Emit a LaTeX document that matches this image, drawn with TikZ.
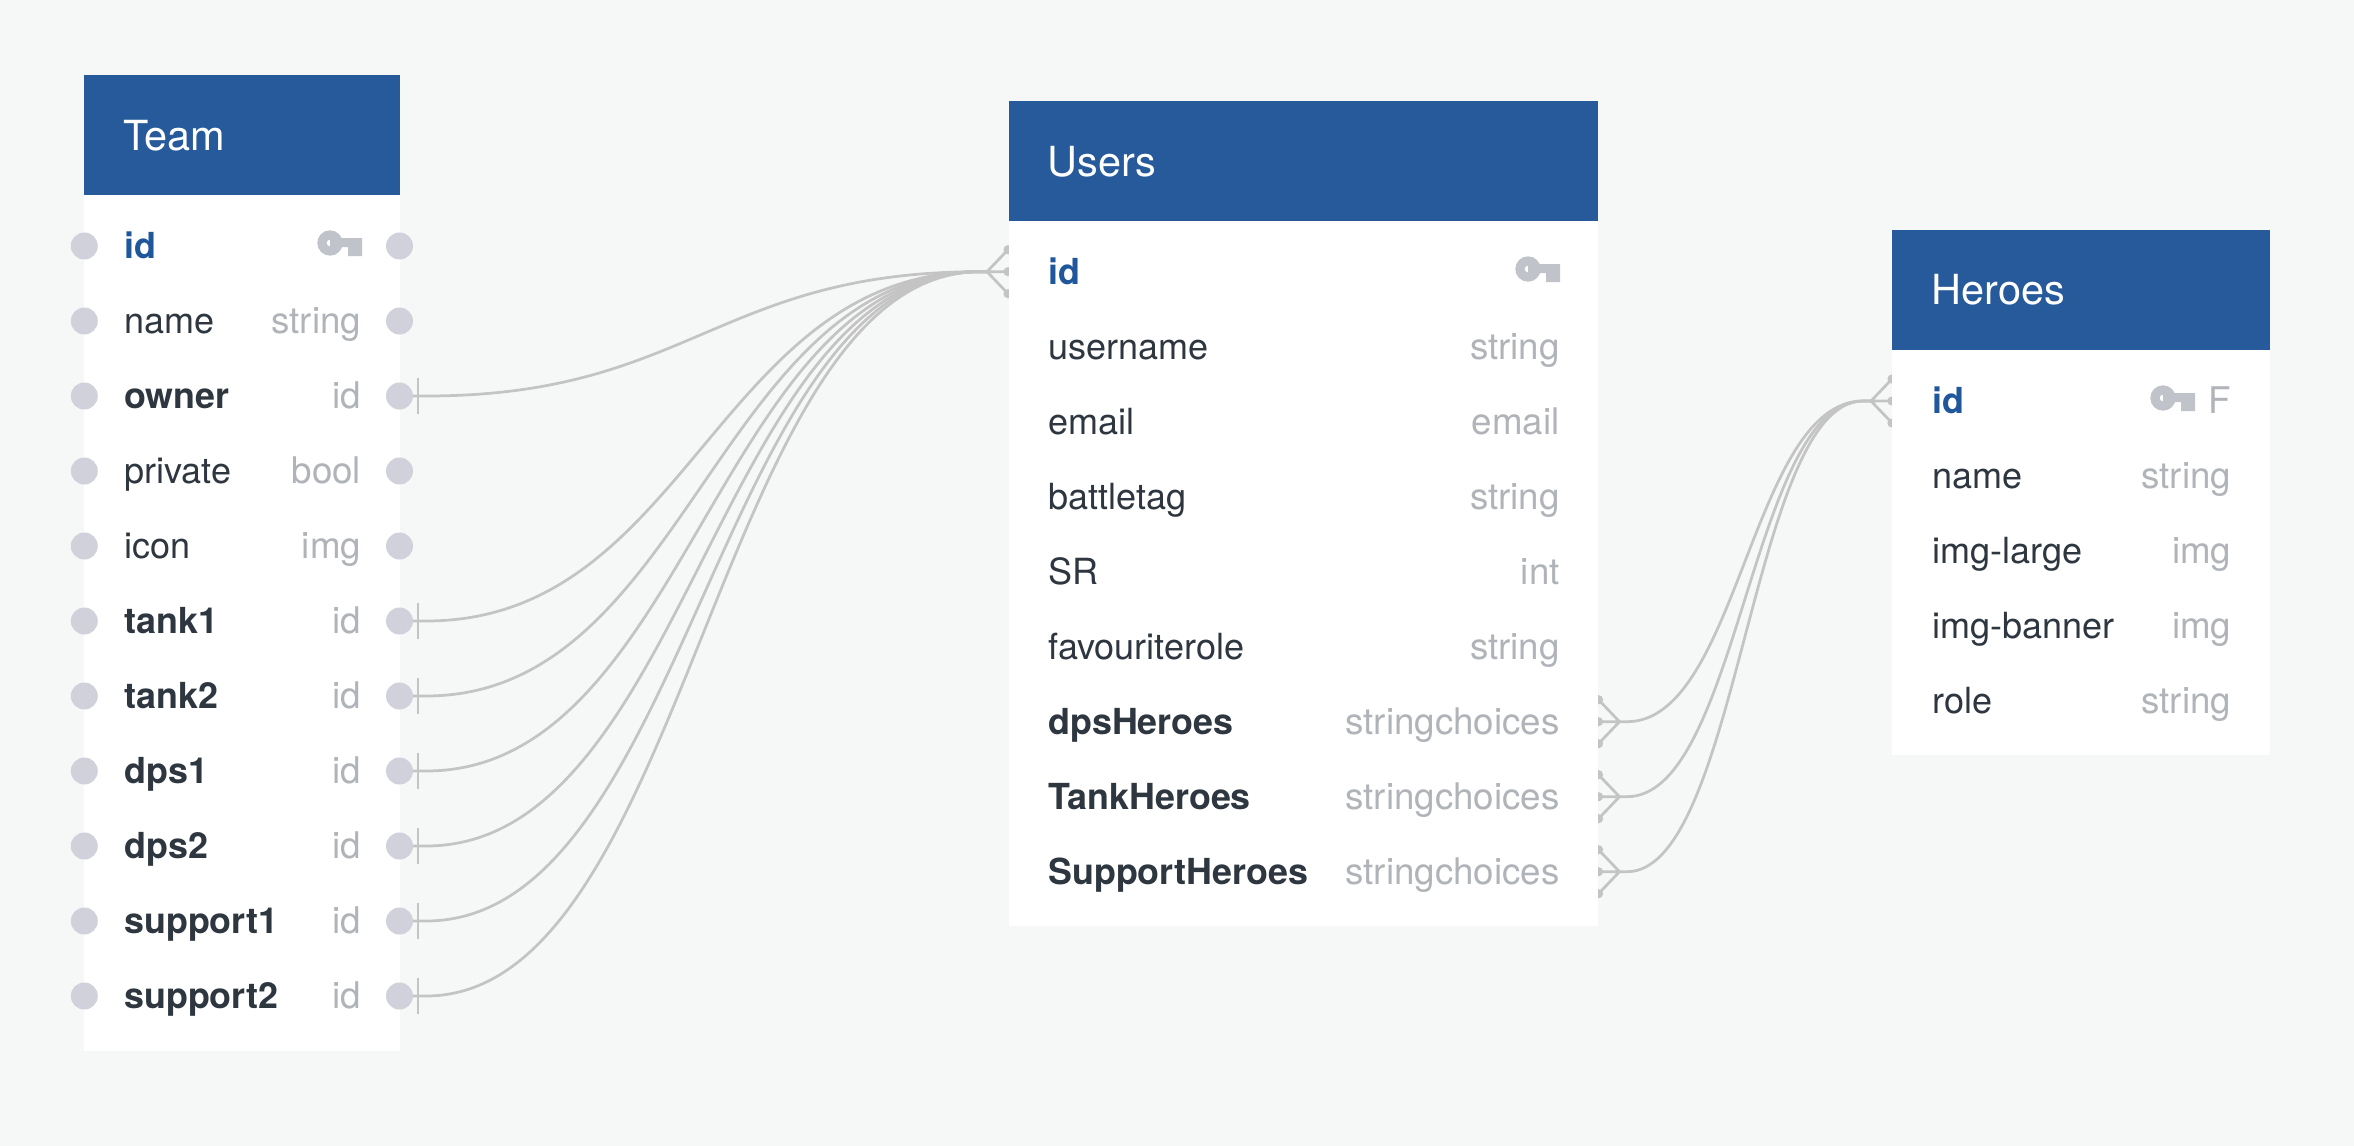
\documentclass[tikz,border=0pt]{standalone}
\usepackage{fontspec}
\setmainfont{TeX Gyre Heros}
\usetikzlibrary{backgrounds,calc}
\definecolor{pagebg}{HTML}{F6F7F7}
\definecolor{headblue}{HTML}{265A9A}
\definecolor{idblue}{HTML}{20579C}
\definecolor{rowdark}{HTML}{2E3640}
\definecolor{typegray}{HTML}{B0B4B9}
\definecolor{keygray}{HTML}{C0C3C9}
\definecolor{dotgray}{HTML}{D1D1DC}
\definecolor{relgray}{HTML}{C4C4C4}
\tikzset{
    x=0.02cm,y=-0.02cm,
    headbox/.style={anchor=north west,fill=headblue,inner sep=0,outer sep=0,minimum height=2.4cm},
    bodybox/.style={anchor=north west,fill=white,inner sep=0,outer sep=0},
    headtext/.style={anchor=base west,inner sep=0,text=white,font=\fontsize{23.6}{28}\selectfont},
    rowplain/.style={anchor=base west,inner sep=0,text=rowdark,font=\fontsize{20.5}{24}\selectfont},
    rowbold/.style={rowplain,font=\fontsize{20.4}{24}\selectfont\bfseries},
    rowid/.style={rowbold,text=idblue},
    rowtype/.style={anchor=base east,inner sep=0,text=typegray,font=\fontsize{20.9}{24}\selectfont},
    rowdot/.style={circle,fill=dotgray,inner sep=0,minimum size=0.54cm},
    relline/.style={draw=relgray,line width=0.055cm},
    sshape/.style 2 args={to path={let \p1=(\tikztostart),\p2=(\tikztotarget) in
        -- (\x1+#1,\y1)
        .. controls (\x1/2+\x2/2+#1/2-#2/2-\x2/40+\x1/40,\y1) and (\x1/2+\x2/2+#1/2-#2/2+\x2/40-\x1/40,\y2)
        .. (\x2-#2,\y2) -- (\p2)}},
    keyglyph/.pic={
        \fill[keygray,even odd rule] (0,0) circle(12.7) (0,0) circle(3.4);
        \fill[keygray] (0,-5) rectangle (32,4) (18,4) rectangle (32,13);
    },
    crowfoot/.pic={
        \draw[relline] (0,0) -- (21,-22) (0,0) -- (21,0) (0,0) -- (21,22);
        \foreach \b in {-22,0,22}{
            \fill[relgray] (21,\b) circle(4.6);
        }
    },
}
\begin{document}
\begin{tikzpicture}
    \begin{scope}[on background layer]
        \fill[pagebg] (0,0) rectangle (2354,1146);
    \end{scope}
    % team
    \node[bodybox,minimum width=6.32cm,minimum height=19.52cm] (team-body) at (84.3,75) {};
    \node[headbox,minimum width=6.32cm] (team-head) at (84.3,75) {};
    \node[headtext] (team-title) at (123,150) {Team};
    \node[rowid] (team-id) at (124,258.4) {id};
    \pic at (330,243) {keyglyph};
    \foreach \n/\t/\s [count=\i from 1, evaluate=\i as \b using 258.4+75*\i] in {
        name/string/rowplain,
        owner/id/rowbold,
        private/bool/rowplain,
        icon/img/rowplain,
        tank1/id/rowbold,
        tank2/id/rowbold,
        dps1/id/rowbold,
        dps2/id/rowbold,
        support1/id/rowbold,
        support2/id/rowbold}{
            \node[\s] (team-\n) at (124,\b) {\n};
            \node[rowtype] (team-\n-type) at (361.5,\b) {\t};
    }
    \foreach \n [count=\i from 0, evaluate=\i as \b using 246+75*\i] in {
        id,name,owner,private,icon,tank1,tank2,dps1,dps2,support1,support2}{
            \node[rowdot] (team-\n-l) at (84.3,\b) {};
            \node[rowdot] (team-\n-r) at (399.5,\b) {};
    }
    % users
    \node[bodybox,minimum width=11.8cm,minimum height=16.5cm] (users-body) at (1008.5,101.2) {};
    \node[headbox,minimum width=11.8cm] (users-head) at (1008.5,101.2) {};
    \node[headtext] (users-title) at (1047,176) {Users};
    \node[rowid] (users-id) at (1048,284.2) {id};
    \pic at (1528,269) {keyglyph};
    \foreach \n/\t/\s [count=\i from 1, evaluate=\i as \b using 284.2+75*\i] in {
        username/string/rowplain,
        email/email/rowplain,
        battletag/string/rowplain,
        SR/int/rowplain,
        favouriterole/string/rowplain,
        dpsHeroes/stringchoices/rowbold,
        TankHeroes/stringchoices/rowbold,
        SupportHeroes/stringchoices/rowbold}{
            \node[\s] (users-\n) at (1048,\b) {\n};
            \node[rowtype] (users-\n-type) at (1560,\b) {\t};
    }
    % heroes
    \node[bodybox,minimum width=7.56cm,minimum height=10.5cm] (heroes-body) at (1892,230) {};
    \node[headbox,minimum width=7.56cm] (heroes-head) at (1892,230) {};
    \node[headtext] (heroes-title) at (1931,304.5) {Heroes};
    \node[rowid] (heroes-id) at (1932,413.4) {id};
    \pic at (2163,398) {keyglyph};
    \node[rowtype] (heroes-id-type) at (2231.5,413.4) {F};
    \foreach \n/\t [count=\i from 1, evaluate=\i as \b using 413.4+75*\i] in {
        name/string,
        img-large/img,
        img-banner/img,
        role/string}{
            \node[rowplain] (heroes-\n) at (1932,\b) {\n};
            \node[rowtype] (heroes-\n-type) at (2231.5,\b) {\t};
    }
    \coordinate (users-id-tip) at (987,271.7);
    \coordinate (heroes-id-tip) at (1871,401);
    \begin{scope}[on background layer]
        \pic at (users-id-tip) {crowfoot};
        \pic at (heroes-id-tip) {crowfoot};
        \foreach \n in {owner,tank1,tank2,dps1,dps2,support1,support2}{
            \draw[relline] (team-\n-r.center) to[sshape={0.53cm}{0.14cm}] (users-id-tip);
            \draw[relline] (team-\n-r.center)++(18.5,-18)--++(0,36);
        }
        \foreach \n/\b in {dpsHeroes/721.7,TankHeroes/796.7,SupportHeroes/871.7}{
            \coordinate (users-\n-tip) at (1619.5,\b);
            \pic[xscale=-1] at (users-\n-tip) {crowfoot};
            \draw[relline] (users-\n-tip) to[sshape={0.15cm}{0.16cm}] (heroes-id-tip);
        }
    \end{scope}
\end{tikzpicture}
\end{document}
